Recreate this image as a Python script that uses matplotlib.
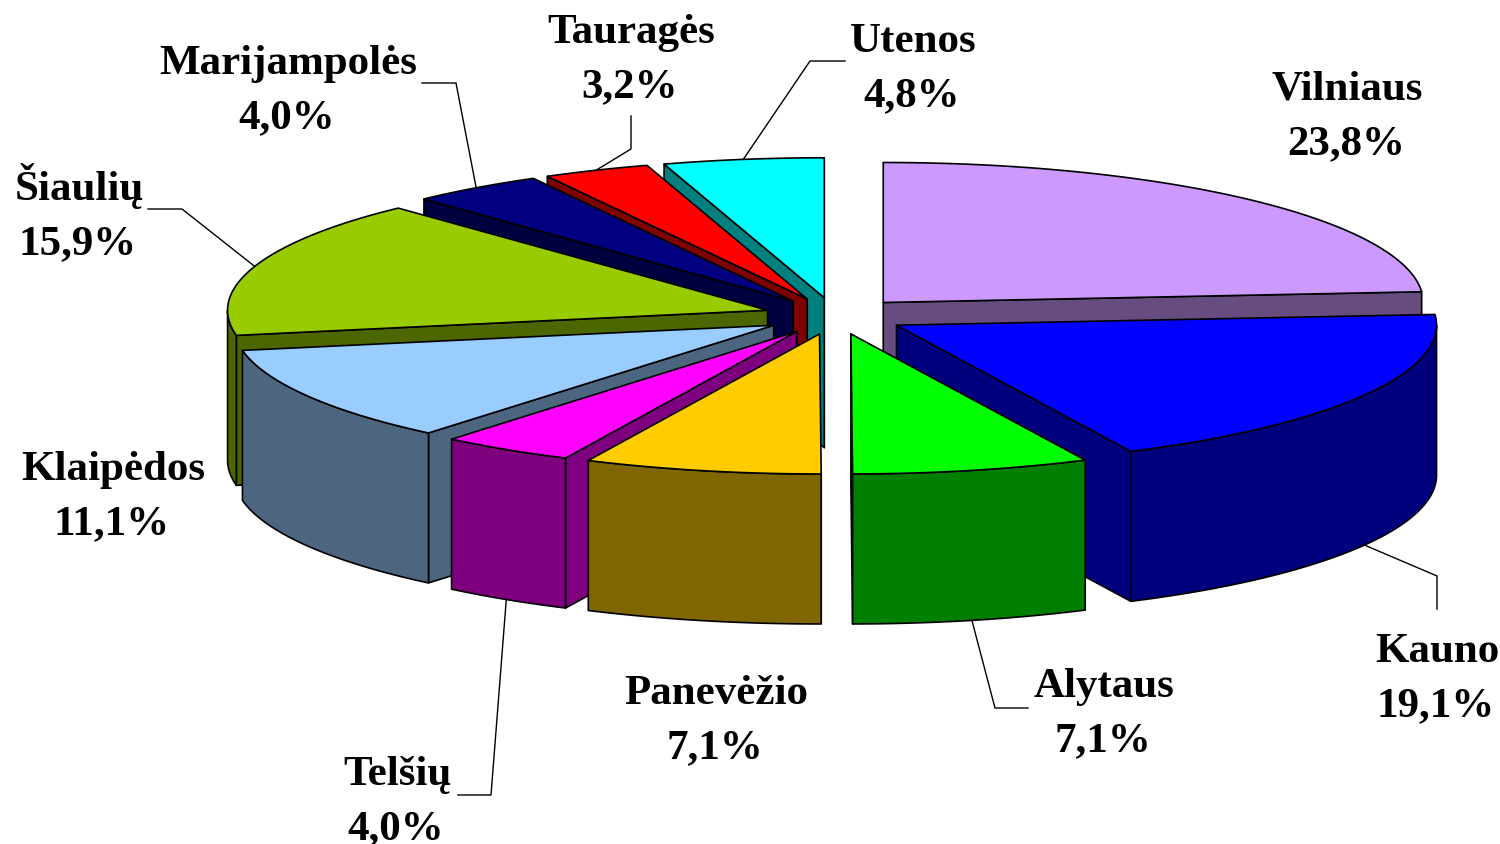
import numpy as np
from matplotlib import pyplot as plt
from matplotlib.patches import Polygon

plt.rcParams['font.family'] = ['Liberation Serif', 'DejaVu Serif']

# apskritys, clockwise from 12 o'clock
names = ['Vilniaus', 'Kauno', 'Alytaus', 'Panevėžio', 'Telšių',
         'Klaipėdos', 'Šiaulių', 'Marijampolės', 'Tauragės', 'Utenos']
shares = [23.8, 19.1, 7.1, 7.1, 4.0, 11.1, 15.9, 4.0, 3.2, 4.8]
colors = ['#CC99FF', '#0000FF', '#00FF00', '#FFCC00', '#FF00FF',
          '#99CCFF', '#99CC00', '#000080', '#FF0000', '#00FFFF']

# label baselines (name, percent) in pixels
label_x = [1347, 1437, 1104, 716, 397, 113, 79, 288, 631, 913]
label_y = [100, 662, 697, 704, 785, 480, 200, 74, 43, 52]
# leader line: elbow and end, None where the chart has no leader
leaders = {'Kauno': ((1437, 577), (1437, 610)),
           'Alytaus': ((995, 709), (1028, 709)),
           'Telšių': ((491, 796), (458, 796)),
           'Šiaulių': ((182, 210), (148, 210)),
           'Marijampolės': ((456, 84), (422, 84)),
           'Tauragės': ((631, 150), (631, 117)),
           'Utenos': ((810, 62), (845, 62))}

cx, cy = 835, 317
rx, ry = 540, 140
depth = 150
explode = 71 / rx

fig = plt.figure(figsize=(15, 8.45), dpi=100)
ax = fig.add_axes([0, 0, 1, 1])
ax.set_xlim(0, 1500)
ax.set_ylim(845, 0)
ax.axis('off')


def rim(x0, y0, a):
    # a is in degrees, clockwise from the top
    a = np.radians(a)
    return np.column_stack([x0 + rx * np.sin(a), y0 - ry * np.cos(a)])


def face(pts, col):
    ax.add_patch(Polygon(pts, closed=True, facecolor=col, edgecolor='black',
                         linewidth=1.2, joinstyle='round'))


def dark(col):
    r, g, b = int(col[1:3], 16), int(col[3:5], 16), int(col[5:7], 16)
    return '#%02X%02X%02X' % (r // 2, g // 2, b // 2)


edges = np.cumsum([0] + shares) / sum(shares) * 360
mids = (edges[:-1] + edges[1:]) / 2
apex_x = cx + explode * rx * np.sin(np.radians(mids))
apex_y = cy - explode * ry * np.cos(np.radians(mids))
down = np.array([0, depth])

# back slices first
for i in np.argsort(apex_y):
    a0, a1 = edges[i], edges[i + 1]
    ax0, ay0 = apex_x[i], apex_y[i]
    apex = np.array([[ax0, ay0]])
    side = dark(colors[i])

    # cut faces
    for a, visible in ((a0, np.sin(np.radians(a0)) < -1e-6),
                       (a1, np.sin(np.radians(a1)) > 1e-6)):
        if visible:
            p = rim(ax0, ay0, a)
            face(np.vstack([apex, p, p + down, apex + down]), side)

    # outer wall, only the front half of the circle shows
    lo, hi = max(a0, 90), min(a1, 270)
    if lo < hi:
        arc = rim(ax0, ay0, np.linspace(lo, hi, 80))
        face(np.vstack([arc, (arc + down)[::-1]]), side)

    # top
    arc = rim(ax0, ay0, np.linspace(a0, a1, 120))
    face(np.vstack([apex, arc]), colors[i])

for i, name in enumerate(names):
    pct = ('%.1f%%' % shares[i]).replace('.', ',')
    ax.text(label_x[i], label_y[i], name, ha='center', va='baseline',
            fontsize=31, fontweight='bold', color='black')
    ax.text(label_x[i] - 1, label_y[i] + 54, pct, ha='center', va='baseline',
            fontsize=31, fontweight='bold', color='black')
    if name in leaders:
        p = rim(apex_x[i], apex_y[i], mids[i])[0]
        if 90 < mids[i] < 270:
            p = p + down
        elbow, end = leaders[name]
        ax.plot([p[0], elbow[0], end[0]], [p[1], elbow[1], end[1]],
                color='black', linewidth=1.0)

fig.savefig('out.png', dpi=100)
